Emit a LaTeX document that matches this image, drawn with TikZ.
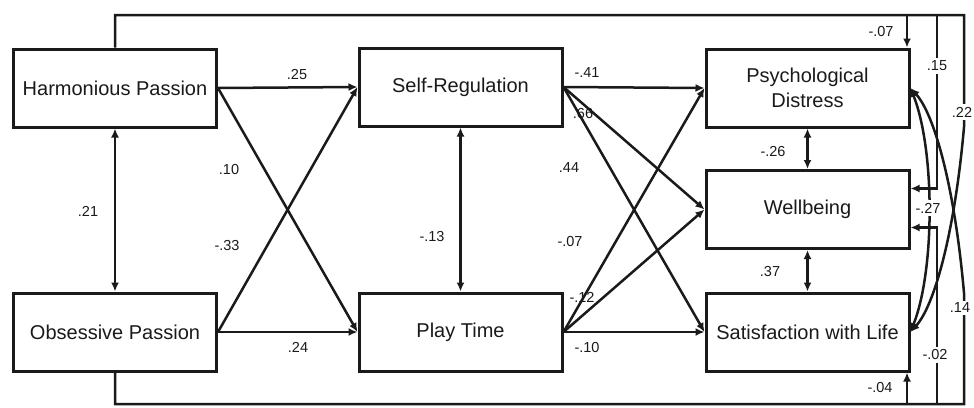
\documentclass[tikz,border=0pt]{standalone}
\usepackage{fontspec}
\setmainfont{Liberation Sans}
\usetikzlibrary{arrows.meta,calc}
\definecolor{ink}{HTML}{1A1A1A}

\begin{document}
\begin{tikzpicture}[x=1pt, y=-1pt, >={Latex[length=9pt,width=8pt]},
    box/.style={draw=ink, line width=3pt, minimum width=203pt, minimum height=78pt,
      align=center, text=ink, font=\fontsize{20}{25}\selectfont, inner sep=2pt},
    arr/.style={->, draw=ink, line width=2.5pt},
    dbl/.style={<->, draw=ink, line width=2.5pt},
    coef/.style={text=ink, font=\fontsize{14.5}{16}\selectfont, inner sep=1.5pt},
    gap/.style={coef, fill=white, inner sep=2.5pt}]
    \useasboundingbox (0,0) rectangle (974,407);
    % boxes
    \node[box] (hp) at (115,88) {Harmonious Passion};
    \node[box] (op) at (115,332) {Obsessive Passion};
    \node[box] (sr) at (460.5,87) {Self-Regulation};
    \node[box] (pt) at (460.5,332) {Play Time};
    \node[box] (pd) at (807.5,88) {Psychological\\Distress};
    \node[box] (wb) at (807.5,209.5) {Wellbeing};
    \node[box] (swl) at (807.5,332) {Satisfaction with Life};
    % passions -> mediators
    \draw[dbl] (hp.south) -- (op.north);
    \draw[arr] (hp.east) -- (sr.west);
    \draw[arr] (hp.east) -- (pt.west);
    \draw[arr] (op.east) -- (sr.west);
    \draw[arr] (op.east) -- (pt.west);
    \draw[dbl] (sr.south) -- (pt.north);
    % mediators -> outcomes
    \foreach \m in {sr,pt} \foreach \o in {pd,wb,swl} \draw[arr] (\m.east) -- (\o.west);
    \draw[dbl] (pd.south) -- (wb.north);
    \draw[dbl] (wb.south) -- (swl.north);
    % direct paths round the outside
    \coordinate (tr) at (964,15);
    \coordinate (br) at (964,404);
    \coordinate (j07) at (907,15);
    \coordinate (j04) at (907,404);
    \coordinate (j15) at (937,15);
    \coordinate (j02) at (937,404);
    \draw[arr] (hp.north) |- (tr) -- (964,127) .. controls (955,230) and (935,305) .. (swl.east);
    \draw[arr] (op.south) |- (br) -- (964,293) .. controls (955,190) and (935,115) .. (pd.east);
    \draw[arr] (j07) -- (j07 |- pd.north);
    \draw[arr] (j04) -- (j04 |- swl.south);
    \draw[arr] (j15) |- ([yshift=21pt]wb.east);
    \draw[arr] (j02) |- ([yshift=-18pt]wb.east);
    \draw[dbl] (pd.east) .. controls (935,150) and (935,270) .. (swl.east);
    % coefficients
    \node[coef] (c1) at (297,75) {.25};
    \node[coef] (c2) at (229,170) {.10};
    \node[coef] (c3) at (227,246) {-.33};
    \node[coef] (c4) at (298,347) {.24};
    \node[coef] (c5) at (88,211) {.21};
    \node[coef] (c6) at (432,237) {-.13};
    \node[coef] (c7) at (587,73) {-.41};
    \node[coef] (c8) at (583,114) {.66};
    \node[coef] (c9) at (569,168) {.44};
    \node[coef] (c10) at (570,242) {-.07};
    \node[coef] (c11) at (582,297) {-.12};
    \node[coef] (c12) at (587,348) {-.10};
    \node[coef] (c13) at (773,152) {-.26};
    \node[coef] (c14) at (770,272) {.37};
    \node[coef] (c15) at (881,32) {-.07};
    \node[coef] (c16) at (880,388) {-.04};
    \node[gap] (c17) at (937,66) {.15};
    \node[gap] (c18) at (962,112) {.22};
    \node[gap] (c19) at (928,208) {-.27};
    \node[gap] (c20) at (960,308) {.14};
    \node[gap] (c21) at (935,355) {-.02};
  \end{tikzpicture}
\end{document}
